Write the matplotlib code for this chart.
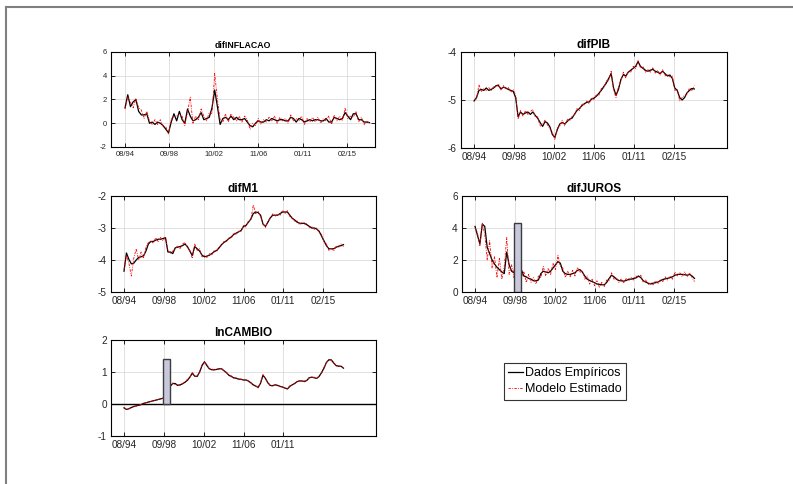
"""
Painel com as series empiricas e as estimadas pelo modelo
(difINFLACAO, difPIB, difM1, difJUROS, lnCAMBIO), amostra trimestral.
"""

import numpy as np
import matplotlib.pyplot as plt
from matplotlib.lines import Line2D

plt.rcParams['font.family'] = ['Liberation Sans', 'DejaVu Sans']
plt.rcParams['axes.unicode_minus'] = False

STEP = 3  # meses entre observacoes

tick_pos = [0, 49, 98, 147, 196, 245]
tick_labels = ['08/94', '09/98', '10/02', '11/06', '01/11', '02/15']

infl_emp = [1.3, 2.4, 1.4, 1.8, 2.0, 1.0, 0.7, 0.7, 0.8, 0.0,
            0.1, -0.1, 0.1, 0.0, -0.2, -0.5, -0.8, 0.1, 0.8, 0.2,
            1.0, 0.3, 0.0, 1.2, 0.6, 0.2, 0.3, 0.5, 0.9, 0.3,
            0.4, 0.5, 1.3, 2.8, 1.4, -0.1, 0.4, 0.5, 0.3, 0.6,
            0.3, 0.5, 0.3, 0.3, 0.4, 0.1, -0.2, -0.3, 0.0, 0.2,
            0.1, 0.1, 0.3, 0.2, 0.4, 0.3, 0.2, 0.3, 0.3, 0.2,
            0.2, 0.5, 0.4, 0.1, 0.4, 0.3, 0.1, 0.2, 0.3, 0.2,
            0.3, 0.3, 0.2, 0.2, 0.4, 0.1, 0.1, 0.5, 0.4, 0.3,
            0.4, 0.9, 0.6, 0.3, 0.8, 0.8, 0.3, 0.3, 0.1, 0.1,
            0.05]
infl_mod = [1.2, 2.2, 1.8, 1.3, 2.1, 1.3, 1.1, 0.4, 1.0, 0.2,
            -0.1, 0.3, -0.1, 0.3, -0.3, -0.3, -0.9, 0.4, 0.5, 0.6,
            0.7, 0.6, -0.2, 0.9, 2.2, 0.0, 0.6, 0.3, 1.2, 0.6,
            0.2, 0.9, 0.8, 4.2, 2.0, 0.3, 0.1, 0.8, 0.1, 0.8,
            0.5, 0.2, 0.6, 0.1, 0.6, 0.3, -0.5, 0.0, -0.2, 0.4,
            -0.1, 0.3, 0.1, 0.5, 0.2, 0.6, 0.0, 0.5, 0.2, 0.4,
            0.0, 0.7, 0.2, 0.4, 0.2, 0.6, -0.1, 0.4, 0.1, 0.5,
            0.1, 0.5, 0.0, 0.4, 0.2, 0.6, -0.1, 0.7, 0.2, 0.6,
            0.2, 1.3, 0.4, 0.6, 0.5, 1.0, 0.1, 0.5, -0.1, 0.2,
            0.0]

pib_emp = [-5.02, -4.95, -4.80, -4.78, -4.80, -4.75, -4.80, -4.78, -4.75, -4.70,
           -4.70, -4.77, -4.73, -4.75, -4.78, -4.80, -4.82, -4.95, -5.35, -5.25,
           -5.30, -5.27, -5.25, -5.30, -5.25, -5.32, -5.38, -5.47, -5.55, -5.45,
           -5.48, -5.56, -5.72, -5.78, -5.62, -5.50, -5.47, -5.50, -5.45, -5.40,
           -5.38, -5.30, -5.22, -5.18, -5.12, -5.08, -5.05, -5.04, -4.98, -4.96,
           -4.92, -4.86, -4.80, -4.72, -4.65, -4.55, -4.45, -4.75, -4.90, -4.78,
           -4.57, -4.47, -4.50, -4.42, -4.38, -4.34, -4.30, -4.20, -4.30, -4.34,
           -4.38, -4.40, -4.38, -4.36, -4.40, -4.42, -4.45, -4.40, -4.45, -4.50,
           -4.48, -4.55, -4.75, -4.80, -4.95, -5.00, -4.95, -4.85, -4.80, -4.76,
           -4.77]
pib_mod = [-5.00, -4.98, -4.68, -4.82, -4.76, -4.80, -4.74, -4.80, -4.72, -4.73,
           -4.66, -4.80, -4.70, -4.78, -4.74, -4.84, -4.78, -4.90, -5.40, -5.22,
           -5.34, -5.22, -5.30, -5.24, -5.20, -5.36, -5.35, -5.55, -5.50, -5.42,
           -5.52, -5.60, -5.68, -5.82, -5.58, -5.55, -5.42, -5.54, -5.40, -5.44,
           -5.34, -5.32, -5.18, -5.22, -5.08, -5.10, -5.02, -5.08, -4.95, -5.00,
           -4.88, -4.90, -4.76, -4.75, -4.60, -4.60, -4.40, -4.80, -4.95, -4.72,
           -4.60, -4.42, -4.54, -4.40, -4.42, -4.30, -4.35, -4.18, -4.33, -4.30,
           -4.42, -4.36, -4.42, -4.33, -4.44, -4.38, -4.48, -4.36, -4.50, -4.46,
           -4.52, -4.50, -4.80, -4.78, -5.02, -4.95, -4.90, -4.88, -4.75, -4.80,
           -4.70]

m1_emp = [-4.35, -3.78, -3.98, -4.12, -4.10, -4.00, -3.92, -3.90, -3.87, -3.72,
          -3.50, -3.42, -3.42, -3.38, -3.35, -3.35, -3.33, -3.30, -3.75, -3.75,
          -3.80, -3.62, -3.60, -3.58, -3.55, -3.50, -3.58, -3.72, -3.86, -3.58,
          -3.65, -3.72, -3.85, -3.90, -3.88, -3.85, -3.80, -3.74, -3.70, -3.62,
          -3.52, -3.45, -3.40, -3.33, -3.28, -3.20, -3.16, -3.12, -3.08, -2.95,
          -2.92, -2.82, -2.72, -2.55, -2.50, -2.52, -2.60, -2.88, -2.95, -2.82,
          -2.68, -2.60, -2.60, -2.60, -2.55, -2.50, -2.50, -2.50, -2.60, -2.70,
          -2.75, -2.82, -2.85, -2.86, -2.85, -2.90, -2.95, -3.00, -3.00, -3.03,
          -3.10, -3.25, -3.40, -3.55, -3.65, -3.65, -3.65, -3.60, -3.57, -3.55,
          -3.52]
m1_mod = [-4.30, -3.85, -4.10, -4.50, -3.95, -3.65, -4.00, -3.75, -3.95, -3.60,
          -3.45, -3.40, -3.48, -3.30, -3.42, -3.30, -3.40, -3.28, -3.70, -3.80,
          -3.72, -3.65, -3.55, -3.64, -3.50, -3.45, -3.62, -3.70, -3.95, -3.50,
          -3.70, -3.65, -3.90, -3.85, -3.92, -3.80, -3.85, -3.70, -3.74, -3.58,
          -3.55, -3.42, -3.44, -3.30, -3.32, -3.15, -3.20, -3.10, -3.12, -2.90,
          -2.97, -2.78, -2.75, -2.28, -2.55, -2.48, -2.65, -2.85, -2.98, -2.78,
          -2.70, -2.56, -2.64, -2.56, -2.60, -2.45, -2.55, -2.46, -2.64, -2.66,
          -2.80, -2.78, -2.90, -2.82, -2.88, -2.86, -2.98, -2.96, -3.04, -3.00,
          -3.15, -3.20, -3.45, -3.50, -3.70, -3.62, -3.72, -3.56, -3.60, -3.50,
          -3.58]

juros_emp = [4.10, 3.55, 3.00, 4.25, 4.10, 2.80, 2.40, 2.00, 1.75, 1.55,
             1.40, 1.25, 1.15, 2.50, 1.70, 1.30, 1.20, 2.30, 2.90, 1.40,
             1.00, 0.95, 0.85, 0.80, 0.70, 0.70, 0.75, 1.15, 1.30, 1.25,
             1.20, 1.30, 1.50, 1.70, 1.90, 1.80, 1.30, 1.15, 1.10, 1.10,
             1.15, 1.20, 1.35, 1.40, 1.25, 1.00, 0.80, 0.72, 0.65, 0.58,
             0.50, 0.48, 0.45, 0.45, 0.60, 0.85, 1.05, 0.95, 0.80, 0.72,
             0.70, 0.68, 0.72, 0.80, 0.80, 0.85, 0.88, 1.00, 0.90, 0.70,
             0.62, 0.55, 0.50, 0.55, 0.58, 0.62, 0.70, 0.78, 0.82, 0.85,
             0.90, 0.95, 1.05, 1.10, 1.10, 1.10, 1.08, 1.05, 1.10, 1.00,
             0.85]
juros_mod = [4.00, 3.70, 2.90, 4.30, 3.60, 2.00, 3.20, 1.50, 2.20, 0.90,
             2.10, 0.80, 1.60, 3.40, 1.10, 1.70, 0.90, 2.60, 2.20, 0.90,
             1.30, 0.60, 1.10, 0.60, 0.90, 0.50, 1.00, 0.90, 1.60, 1.00,
             1.50, 1.10, 1.80, 1.40, 2.30, 1.60, 1.50, 0.90, 1.30, 0.95,
             1.35, 1.00, 1.55, 1.20, 1.35, 0.80, 1.00, 0.50, 0.80, 0.40,
             0.70, 0.30, 0.60, 0.35, 0.75, 0.70, 1.20, 0.80, 0.90, 0.60,
             0.85, 0.55, 0.85, 0.70, 0.90, 0.75, 1.00, 0.90, 1.05, 0.60,
             0.75, 0.45, 0.60, 0.45, 0.70, 0.50, 0.80, 0.65, 0.95, 0.75,
             1.00, 0.80, 1.25, 1.00, 1.20, 0.95, 1.25, 0.95, 1.20, 0.90,
             0.65]

cambio_emp = [-0.12, -0.17, -0.15, -0.11, -0.08, -0.06, -0.04, -0.02, 0.02, 0.04,
              0.06, 0.08, 0.10, 0.12, 0.14, 0.16, 0.18, 0.28, 0.66, 0.56,
              0.64, 0.64, 0.58, 0.60, 0.63, 0.68, 0.74, 0.84, 0.96, 0.87,
              0.86, 1.00, 1.20, 1.32, 1.20, 1.10, 1.07, 1.07, 1.08, 1.10,
              1.10, 1.04, 0.98, 0.90, 0.86, 0.82, 0.80, 0.78, 0.77, 0.75,
              0.75, 0.72, 0.66, 0.60, 0.56, 0.52, 0.65, 0.90, 0.80, 0.66,
              0.58, 0.57, 0.60, 0.58, 0.55, 0.53, 0.50, 0.47, 0.55, 0.60,
              0.64, 0.70, 0.72, 0.72, 0.70, 0.74, 0.82, 0.84, 0.82, 0.80,
              0.86, 0.98, 1.12, 1.30, 1.38, 1.38, 1.28, 1.20, 1.18, 1.18,
              1.12]
cambio_mod = [-0.10, -0.18, -0.14, -0.12, -0.07, -0.07, -0.03, -0.02, 0.02, 0.04,
              0.06, 0.08, 0.10, 0.12, 0.14, 0.16, 0.18, 0.26, 0.70, 0.52,
              0.66, 0.60, 0.60, 0.58, 0.65, 0.66, 0.78, 0.82, 1.00, 0.85,
              0.88, 0.98, 1.24, 1.30, 1.24, 1.08, 1.10, 1.05, 1.10, 1.08,
              1.12, 1.02, 1.00, 0.88, 0.88, 0.80, 0.82, 0.76, 0.78, 0.74,
              0.76, 0.70, 0.68, 0.58, 0.57, 0.50, 0.68, 0.92, 0.78, 0.68,
              0.56, 0.59, 0.58, 0.60, 0.54, 0.55, 0.49, 0.48, 0.57, 0.58,
              0.66, 0.68, 0.74, 0.70, 0.72, 0.73, 0.84, 0.82, 0.84, 0.79,
              0.88, 0.96, 1.15, 1.28, 1.40, 1.36, 1.30, 1.18, 1.20, 1.16,
              1.14]

# barra de destaque da crise de 1998 (inicio, fim, altura)
crise_ini, crise_fim = 48, 56
crise_alt_juros = 4.3
crise_alt_cambio = 1.4


def estilo_eixo(ax, ylim, yticks, xlim, xticks, fs):
    """Aparencia tipo MATLAB: caixa fechada, ticks para dentro, grade clara"""
    ax.set_xlim(xlim)
    ax.set_ylim(ylim)
    ax.set_yticks(yticks)
    ax.set_xticks(tick_pos[:len(xticks)])
    ax.set_xticklabels(xticks)
    ax.grid(True, color='#dcdcdc', lw=0.6)
    ax.set_axisbelow(True)
    ax.tick_params(direction='in', length=3, width=0.6, top=True, right=True,
                   labelsize=fs, labelcolor='#262626', pad=3)
    for s in ax.spines.values():
        s.set_linewidth(0.8)


def plota(ax, emp, mod, titulo, fs_titulo):
    x = np.arange(len(emp)) * STEP
    h1, = ax.plot(x, emp, color='black', lw=0.9, label='Dados Empíricos')
    h2, = ax.plot(x, mod, color='red', lw=0.6, ls=(0, (3, 1.5, 1, 1.5)),
                  label='Modelo Estimado')
    ax.set_title(titulo, fontsize=fs_titulo, fontweight='bold', pad=3)
    return h1, h2


fig = plt.figure(figsize=(7.93, 4.84), dpi=100)
W, H = 793.0, 484.0


def eixo(x0, y_top, w, h):
    return fig.add_axes([x0 / W, 1 - (y_top + h) / H, w / W, h / H])


ax1 = eixo(111, 52, 264, 95)
ax2 = eixo(461, 52, 266, 96)
ax3 = eixo(111, 196, 265, 96)
ax4 = eixo(462, 196, 265, 96)
ax5 = eixo(111, 340, 265, 96)

xl = (-16, 310)

plota(ax1, infl_emp, infl_mod, 'difINFLACAO', 6.3)
estilo_eixo(ax1, (-2, 6), [-2, 0, 2, 4, 6], (-15.5, 276), tick_labels, 5.5)

plota(ax2, pib_emp, pib_mod, 'difPIB', 8.5)
estilo_eixo(ax2, (-6, -4), [-6, -5, -4], xl, tick_labels, 7.2)

plota(ax3, m1_emp, m1_mod, 'difM1', 8.5)
estilo_eixo(ax3, (-5, -2), [-5, -4, -3, -2], xl, tick_labels, 7.2)

ax4.bar((crise_ini + crise_fim) / 2, crise_alt_juros, width=crise_fim - crise_ini,
        color='#c8c8dc', edgecolor='#3c3c3c', lw=1.0, zorder=3)
plota(ax4, juros_emp, juros_mod, 'difJUROS', 8.5)
estilo_eixo(ax4, (0, 6), [0, 2, 4, 6], xl, tick_labels, 7.2)

ax5.axhline(0, color='black', lw=1.0)
ax5.bar((crise_ini + crise_fim) / 2, crise_alt_cambio, width=crise_fim - crise_ini,
        color='#c8c8dc', edgecolor='#3c3c3c', lw=1.0, zorder=3)
h_emp, h_mod = plota(ax5, cambio_emp, cambio_mod, 'lnCAMBIO', 8.5)
estilo_eixo(ax5, (-1, 2), [-1, 0, 1, 2], xl, tick_labels[:5], 7.2)

leg = fig.legend([h_emp, h_mod], ['Dados Empíricos', 'Modelo Estimado'],
                 loc='upper left', bbox_to_anchor=(504 / W, 1 - 363 / H),
                 fontsize=9, fancybox=False, framealpha=1, edgecolor='#333333',
                 borderpad=0.35, labelspacing=0.3, handlelength=1.15,
                 handletextpad=0.15, borderaxespad=0)
leg.get_frame().set_linewidth(0.8)

# moldura cinza da figura (topo e lateral esquerda)
fig.add_artist(Line2D([6 / W, 1], [1 - 7 / H, 1 - 7 / H], color='#808080', lw=1.5))
fig.add_artist(Line2D([6 / W, 6 / W], [0, 1 - 7 / H], color='#808080', lw=1.5))

fig.savefig('out.png', dpi=100)
